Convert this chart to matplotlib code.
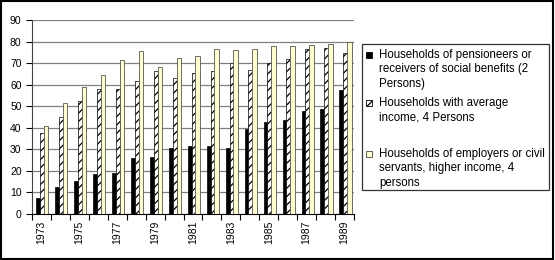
import numpy as np
import matplotlib
matplotlib.use("Agg")
import matplotlib.pyplot as plt
from matplotlib.patches import Rectangle

plt.rcParams['font.family'] = ['Liberation Sans', 'DejaVu Sans']
plt.rcParams['hatch.linewidth'] = 0.9

# Data
years = list(range(1973, 1990))
pensioners = [7.3, 12.5, 15.5, 18.4, 19.2, 26.0, 26.6, 30.8, 31.5, 31.5, 30.8,
              39.4, 42.7, 43.4, 47.8, 48.7, 57.3]
average = [37.7, 44.8, 52.5, 57.8, 57.8, 61.8, 66.5, 63.2, 65.2, 66.2, 69.9,
           66.6, 69.9, 71.7, 76.4, 77.1, 74.5]
higher = [41.0, 51.5, 59.0, 64.5, 71.3, 75.7, 68.2, 72.5, 73.3, 76.5, 76.0,
          76.7, 77.9, 77.9, 78.5, 78.8, 80.0]

labels = [
    ["Households of pensioneers or", "receivers of social benefits (2", "Persons)"],
    ["Households with average", "income, 4 Persons"],
    ["Households of employers or civil", "servants, higher income, 4", "persons"],
]

W, H = 555, 260
fig = plt.figure(figsize=(W / 100, H / 100), dpi=100)
ax = fig.add_axes([32 / W, 1 - 214 / H, 322 / W, 194 / H])

x = np.arange(len(years)) + 0.05
w = 0.24
step = 0.2
ax.bar(x - step, pensioners, w, color='black', edgecolor='black',
       linewidth=0.5, zorder=3)
ax.bar(x, average, w, color='white', edgecolor='black', hatch='////',
       linewidth=0.5, zorder=4)
ax.bar(x + step, higher, w, color='#FFFFCC', edgecolor='#555555',
       linewidth=0.6, zorder=5)

ax.set_xlim(-0.5, len(years) - 0.5)
ax.set_ylim(0, 90)
ax.set_yticks(range(0, 91, 10))
ax.yaxis.grid(True, color='#808080', linewidth=0.9, zorder=0)

# odd-year labels at group centres, tick marks at group boundaries
odd = [i for i, y in enumerate(years) if y % 2 == 1]
ax.set_xticks(odd)
ax.set_xticklabels([str(years[i]) for i in odd], rotation=90, fontsize=7.5)
ax.tick_params(axis='x', which='major', length=0, pad=5)
ax.set_xticks(np.arange(-0.5, len(years)), minor=True)
ax.tick_params(axis='x', which='minor', length=4, width=0.8)
ax.tick_params(axis='y', labelsize=7.5, length=4, width=0.8)

for s in ['top', 'right']:
    ax.spines[s].set_visible(False)
ax.spines['left'].set_color('#444444')
ax.spines['bottom'].set_color('black')

# legend drawn by hand so the key square sits on the first text line
def fy(py):
    return 1 - py / H

fig.patches.append(Rectangle((362 / W, fy(190)), 187 / W, 146 / H,
                             transform=fig.transFigure, facecolor='white',
                             edgecolor='#333333', linewidth=0.9))
styles = [dict(facecolor='black', edgecolor='black'),
          dict(facecolor='white', edgecolor='black', hatch='/////'),
          dict(facecolor='#FFFFCC', edgecolor='#444444')]
entry_top = [55, 103, 154]
line_step = 14.5
for lines, top, st in zip(labels, entry_top, styles):
    fig.patches.append(Rectangle((366 / W, fy(top + 3)), 6 / W, 6 / H,
                                 transform=fig.transFigure, linewidth=0.6, **st))
    for k, line in enumerate(lines):
        fig.text(379 / W, fy(top + k * line_step), line, fontsize=8.3,
                 va='center', ha='left')

# outer frame of the figure
fig.patches.append(Rectangle((0.002, 0.004), 0.995, 0.992, transform=fig.transFigure,
                             fill=False, edgecolor='black', linewidth=1.5))

fig.savefig('out.png', dpi=100)
